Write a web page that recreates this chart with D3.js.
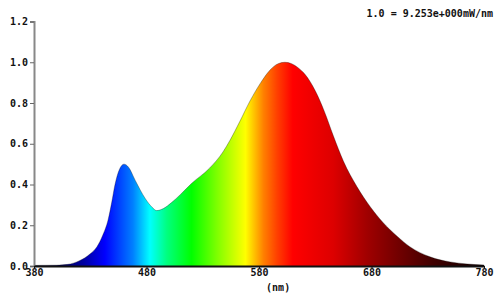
<!DOCTYPE html>
<html>
<head>
<meta charset="utf-8">
<script src="https://cdn.jsdelivr.net/npm/d3@7"></script>
<style>
  body { margin: 0; background: #fff; }
  text { font-family: "DejaVu Sans Mono", monospace; font-weight: bold; font-size: 10px; fill: #111; }
</style>
</head>
<body>
<svg id="chart" width="500" height="298"></svg>
<script>
// wavelength (nm) and relative power
const wavelengths = [380, 400, 410, 420, 430, 436, 441, 446, 449, 452, 456, 460, 464, 470, 479, 485, 489, 495, 502, 510, 520, 536, 548, 554, 563, 572, 581, 590, 597, 603, 609, 615, 621, 630, 638, 646, 655, 667, 679, 690, 703, 714, 732, 750, 765, 780];
const power = [0.003, 0.004, 0.008, 0.025, 0.06, 0.095, 0.15, 0.23, 0.31, 0.40, 0.475, 0.50, 0.485, 0.42, 0.33, 0.288, 0.272, 0.282, 0.31, 0.35, 0.405, 0.48, 0.56, 0.615, 0.71, 0.81, 0.895, 0.963, 0.993, 1.0, 0.993, 0.972, 0.94, 0.86, 0.76, 0.64, 0.515, 0.39, 0.29, 0.215, 0.145, 0.095, 0.045, 0.02, 0.01, 0.005];

const xTicks = [380, 480, 580, 680, 780];
const yTicks = [0, 0.2, 0.4, 0.6, 0.8, 1.0, 1.2];
const xTitle = "(nm)";
const scaleNote = "1.0 = 9.253e+000mW/nm";

// spectrum colours along the wavelength axis
const stopNm = [380, 394, 424, 443, 468, 483, 498, 520, 543, 568, 584, 596, 610, 646, 676, 705, 735, 780];
const stopColor = ["#000020", "#000040", "#0000a0", "#0000ff", "#0080ff", "#00ffff", "#00ff80", "#00ff00", "#80ff00", "#ffff00", "#ff8000", "#ff4000", "#ff0000", "#dd0000", "#a00000", "#700000", "#400000", "#100000"];

const svg = d3.select("#chart");
const margin = {top: 21.5, right: 16, bottom: 32, left: 34};
const width = 500 - margin.left - margin.right;
const height = 298 - margin.top - margin.bottom;

const x = d3.scaleLinear().domain([380, 780]).range([0, width]);
const y = d3.scaleLinear().domain([0, 1.2]).range([height, 0]);

const g = svg.append("g").attr("transform", `translate(${margin.left},${margin.top})`);

const grad = svg.append("defs").append("linearGradient")
    .attr("id", "spectrum")
    .attr("gradientUnits", "userSpaceOnUse")
    .attr("x1", x(380)).attr("x2", x(780))
    .attr("y1", 0).attr("y2", 0);
grad.selectAll("stop")
    .data(stopNm)
    .enter().append("stop")
    .attr("offset", d => (d - 380) / 400)
    .attr("stop-color", (d, i) => stopColor[i]);

const data = wavelengths.map((w, i) => ({w: w, v: power[i]}));

const area = d3.area()
    .x(d => x(d.w))
    .y0(height)
    .y1(d => y(d.v))
    .curve(d3.curveMonotoneX);

g.append("path")
    .datum(data)
    .attr("d", area)
    .attr("fill", "url(#spectrum)");

// faint dark edge along the top of the curve
g.append("path")
    .datum(data)
    .attr("d", area.lineY1())
    .attr("fill", "none")
    .attr("stroke", "rgba(0,0,0,0.3)")
    .attr("stroke-width", 1);

// y axis
const yAxis = g.append("g")
    .call(d3.axisLeft(y).tickValues(yTicks).tickFormat(d3.format(".1f")).tickSize(4).tickPadding(2));
yAxis.select(".domain").attr("stroke", "#888").attr("stroke-width", 2);
yAxis.selectAll(".tick line").attr("stroke", "#666");
yAxis.selectAll("text").attr("fill", "#111").style("font-size", "10px");

// x axis
const xAxis = g.append("g")
    .attr("transform", `translate(0,${height})`)
    .call(d3.axisBottom(x).tickValues(xTicks).tickFormat(d3.format("d")).tickSize(2).tickSizeOuter(0).tickPadding(1));
xAxis.select(".domain").attr("stroke", "#111").attr("stroke-width", 2);
xAxis.selectAll(".tick line").attr("stroke", "#111");
xAxis.selectAll("text").attr("fill", "#111").style("font-size", "10px");

g.append("text")
    .attr("x", x(597))
    .attr("y", height + 25)
    .attr("text-anchor", "middle")
    .text(xTitle);

svg.append("text")
    .attr("x", 493)
    .attr("y", 17)
    .attr("text-anchor", "end")
    .text(scaleNote);
</script>
</body>
</html>
